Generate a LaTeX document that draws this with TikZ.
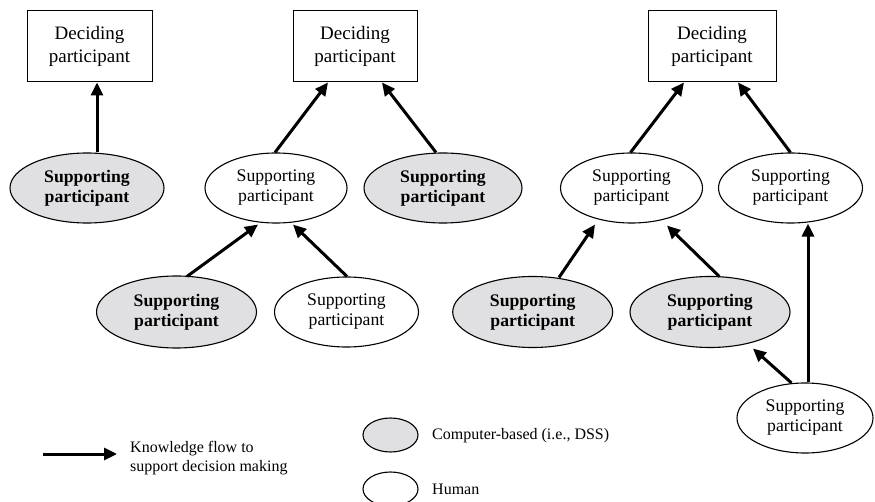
\documentclass[tikz,border=0pt]{standalone}
\usepackage{fontspec}
\setmainfont{Liberation Serif}
\usetikzlibrary{arrows.meta,calc,shapes.geometric}
\definecolor{dssgray}{RGB}{224,224,226}
\begin{document}
\begin{tikzpicture}[x=1pt,y=-1pt,
  decider/.style={draw, line width=1pt, rectangle, minimum width=125pt,
    minimum height=71pt, inner sep=0pt, align=center,
    font=\fontsize{19}{23}\selectfont},
  supporter/.style={draw, line width=1.1pt, ellipse, minimum width=142pt,
    minimum height=70pt, inner sep=0pt, align=center,
    font=\fontsize{17.7}{20}\selectfont},
  dss/.style={supporter, fill=dssgray,
    font=\fontsize{17.7}{20}\selectfont\bfseries},
  human/.style={supporter, fill=white},
  flow/.style={line width=3pt, -{Triangle[length=13pt,width=12pt]}},
  keytext/.style={font=\fontsize{16}{19}\selectfont, align=left,
    anchor=west, inner sep=0pt},
  keyshape/.style={draw, line width=1.1pt, ellipse, minimum width=55pt,
    minimum height=34pt, inner sep=0pt},
]
\useasboundingbox (0,0) rectangle (875,502);

% deciding participants
\node[decider] (b1) at (89.5,46.5) {Deciding\\participant};
\node[decider, minimum width=124pt] (b2) at (355,46.5) {Deciding\\participant};
\node[decider, minimum width=128pt] (b3) at (712,46.5) {Deciding\\participant};

% supporting participants
\node[dss, minimum width=154pt] (e1) at (87,188) {Supporting\\participant};
\node[human] (e2) at (276,188) {Supporting\\participant};
\node[dss, minimum width=158pt] (e3) at (443,188) {Supporting\\participant};
\node[dss, minimum width=160pt, minimum height=72pt] (e4) at (176.5,312) {Supporting\\participant};
\node[human, minimum width=144pt] (e5) at (346.5,312) {Supporting\\participant};
\node[human] (e6) at (631.5,188) {Supporting\\participant};
\node[human, minimum width=144pt] (e7) at (790.5,188) {Supporting\\participant};
\node[dss, minimum width=160pt, minimum height=71pt] (e8) at (532.7,312) {Supporting\\participant};
\node[dss, minimum width=160pt, minimum height=71pt] (e9) at (710,312) {Supporting\\participant};
\node[human, minimum width=136pt] (e10) at (805,418) {Supporting\\participant};

% knowledge flows
\draw[flow] ($(e1.north)+(10,0)$) -- ($(b1.south)+(7.5,0)$);
\draw[flow] ($(e2.north)+(-1,0)$) -- ($(b2.south)+(-27,0)$);
\draw[flow] ($(e3.north)+(-7,0)$) -- ($(b2.south)+(27,0)$);
\draw[flow] ($(e4.north)+(10.5,1)$) -- ($(e2.south)+(-18,1)$);
\draw[flow] ($(e5.north)+(0.5,0)$) -- ($(e2.south)+(17,1)$);
\draw[flow] ($(e6.north)+(-1,0)$) -- ($(b3.south)+(-28,0)$);
\draw[flow] ($(e7.north)+(0,0)$) -- ($(b3.south)+(26,0)$);
\draw[flow] ($(e8.north)+(26.3,1.5)$) -- ($(e6.south)+(-36.5,1)$);
\draw[flow] ($(e9.north)+(9.3,0.5)$) -- ($(e6.south)+(35.5,2)$);
\draw[flow] ($(e10.north)+(3,0)$) -- ($(e7.south)+(17.5,0)$);
\draw[flow] ($(e10.north)+(-13.5,0.5)$) -- ($(e9.south)+(43,0.5)$);

% key
\coordinate (ka) at (43,454);
\coordinate (kb) at (117,454);
\draw[flow] (ka) -- (kb);
\node[keytext] (kt) at (130,458) {Knowledge flow to\\support decision making};
\node[keyshape, fill=dssgray] (kg) at (390.5,435) {};
\node[keytext] (kgt) at (432,436) {Computer-based (i.e., DSS)};
\node[keyshape, fill=white] (kw) at (390.5,489) {};
\node[keytext] (kwt) at (432,489) {Human};
\end{tikzpicture}
\end{document}
